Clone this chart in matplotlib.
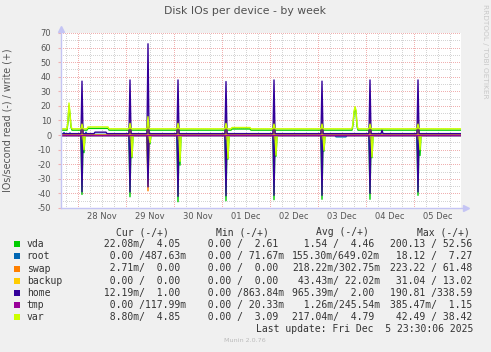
import numpy as np
import pandas as pd
import matplotlib
matplotlib.use("Agg")
import matplotlib.pyplot as plt
from matplotlib.patches import Rectangle

# ---------------- data ----------------
start_time = "2025-11-27 15:30"
n_samples = 401            # 30-minute samples
devices = ["vda", "root", "swap", "backup", "home", "tmp", "var"]
colors = ["#00CC00", "#0066B3", "#FF8000", "#FFCC00", "#330099", "#990099", "#CCFF00"]

# quiet baseline levels (IOs/s)
write_base = [3.4, 0.5, 0.0, 0.0, 1.0, 0.2, 4.3]
read_base = [-0.3, 0.0, 0.0, 0.0, -0.3, 0.0, -0.1]

# nightly bursts
spike_times = ["2025-11-28 02:00", "2025-11-29 02:00", "2025-11-29 11:00",
               "2025-11-30 02:00", "2025-12-01 02:00", "2025-12-02 02:00",
               "2025-12-03 02:00", "2025-12-04 02:00", "2025-12-05 02:00"]
vda_write_spike = [9.5, 9.5, 13.0, 9.5, 9.5, 9.5, 9.5, 9.5, 9.5]
vda_read_spike = [-40.7, -42.3, -30.0, -45.7, -45.0, -44.3, -44.0, -44.0, -41.3]
root_write_spike = [6.0, 6.0, 7.0, 6.0, 6.0, 6.0, 6.0, 6.0, 6.0]
root_read_spike = [-18.0, -18.0, -12.0, -18.0, -18.0, -18.0, -18.0, -18.0, -18.0]
swap_write_spike = [10.5, 10.0, 12.0, 10.0, 10.5, 10.0, 10.0, 10.0, 10.0]
swap_read_spike = [-2.0, -2.0, -38.2, -2.0, -2.0, -2.0, -2.0, -2.0, -2.0]
backup_write_spike = [3.0, 3.0, 3.0, 3.0, 3.0, 3.0, 3.0, 3.0, 3.0]
backup_read_spike = [-3.0, -3.0, -3.0, -3.0, -3.0, -3.0, -3.0, -3.0, -3.0]
home_write_spike = [37.0, 37.8, 62.6, 37.8, 36.7, 37.8, 37.0, 37.8, 37.8]
home_read_spike = [-38.9, -39.0, -35.5, -42.0, -41.6, -41.3, -41.3, -40.0, -39.0]
var_write_spike = [7.5, 8.0, 12.6, 8.0, 8.0, 7.5, 7.5, 7.5, 7.5]

# one sample after each burst
after_times = ["2025-11-28 03:00", "2025-11-29 03:00", "2025-11-29 12:00",
               "2025-11-30 03:00", "2025-12-01 03:00", "2025-12-02 03:00",
               "2025-12-03 03:00", "2025-12-04 03:00", "2025-12-05 03:00"]
var_read_after = [-10.0, -15.0, -5.0, -18.0, -16.0, -13.8, -10.3, -15.0, -10.0]
vda_read_after = [-12.0, -15.5, -6.0, -20.6, -16.5, -14.5, -11.0, -15.5, -14.0]

# var write bumps
var_bump_times = ["2025-11-27 19:00", "2025-11-27 19:30", "2025-11-27 20:00", "2025-11-27 20:30",
                  "2025-12-03 17:30", "2025-12-03 18:00", "2025-12-03 18:30", "2025-12-03 19:00",
                  "2025-12-03 19:30"]
var_bump_values = [10.0, 22.0, 15.0, 6.0, 8.0, 16.0, 19.5, 17.0, 7.0]
vda_bump_values = [9.0, 20.0, 14.0, 5.5, 7.0, 15.0, 18.5, 16.0, 6.0]

# slightly busier periods (start, end, level)
var_write_periods = [("2025-11-28 05:00", "2025-11-28 15:00", 5.6),
                     ("2025-12-01 05:00", "2025-12-01 14:00", 5.2)]
vda_write_periods = [("2025-11-28 05:00", "2025-11-28 15:00", 4.6),
                     ("2025-12-01 05:00", "2025-12-01 14:00", 4.2)]
home_write_periods = [("2025-11-28 08:30", "2025-11-28 14:00", 2.0)]
root_read_periods = [("2025-12-03 09:00", "2025-12-03 14:00", -1.2)]
home_write_blip_times = ["2025-12-04 08:00"]
home_write_blip_values = [3.4]
root_write_blip_times = ["2025-11-27 17:00", "2025-11-27 20:00", "2025-11-28 04:00"]
root_write_blip_values = [1.8, 1.5, 2.0]

y_ticks = [-50, -40, -30, -20, -10, 0, 10, 20, 30, 40, 50, 60, 70]
day_labels = ["28 Nov", "29 Nov", "30 Nov", "01 Dec", "02 Dec", "03 Dec", "04 Dec", "05 Dec"]
day_centers = ["2025-11-28 12:00", "2025-11-29 12:00", "2025-11-30 12:00", "2025-12-01 12:00",
               "2025-12-02 12:00", "2025-12-03 12:00", "2025-12-04 12:00", "2025-12-05 12:00"]

cur_read = ["22.08m", "0.00", "2.71m", "0.00", "12.19m", "0.00", "8.80m"]
cur_write = ["4.05", "487.63m", "0.00", "0.00", "1.00", "117.99m", "4.85"]
min_read = ["0.00", "0.00", "0.00", "0.00", "0.00", "0.00", "0.00"]
min_write = ["2.61", "71.67m", "0.00", "0.00", "863.84m", "20.33m", "3.09"]
avg_read = ["1.54", "155.30m", "218.22m", "43.43m", "965.39m", "1.26m", "217.04m"]
avg_write = ["4.46", "649.02m", "302.75m", "22.02m", "2.00", "245.54m", "4.79"]
max_read = ["200.13", "18.12", "223.22", "31.04", "190.81", "385.47m", "42.49"]
max_write = ["52.56", "7.27", "61.48", "13.02", "338.59", "1.15", "38.42"]

# ---------------- build series ----------------
times = pd.date_range(start_time, periods=n_samples, freq="30min")


def series(base, periods=(), events=()):
    s = pd.Series(base, index=times, dtype=float)
    for a, b, v in periods:
        s.loc[pd.Timestamp(a):pd.Timestamp(b)] = v
    for tlist, vlist in events:
        for t, v in zip(tlist, vlist):
            s.loc[pd.Timestamp(t)] = v
    return s


writes = [
    series(write_base[0], vda_write_periods,
           [(spike_times, vda_write_spike), (var_bump_times, vda_bump_values)]),
    series(write_base[1], (), [(spike_times, root_write_spike),
                               (root_write_blip_times, root_write_blip_values)]),
    series(write_base[2], (), [(spike_times, swap_write_spike)]),
    series(write_base[3], (), [(spike_times, backup_write_spike)]),
    series(write_base[4], home_write_periods,
           [(spike_times, home_write_spike), (home_write_blip_times, home_write_blip_values)]),
    series(write_base[5]),
    series(write_base[6], var_write_periods,
           [(spike_times, var_write_spike), (var_bump_times, var_bump_values)]),
]
reads = [
    series(read_base[0], (), [(spike_times, vda_read_spike), (after_times, vda_read_after)]),
    series(read_base[1], root_read_periods, [(spike_times, root_read_spike)]),
    series(read_base[2], (), [(spike_times, swap_read_spike)]),
    series(read_base[3], (), [(spike_times, backup_read_spike)]),
    series(read_base[4], (), [(spike_times, home_read_spike)]),
    series(read_base[5]),
    series(read_base[6], (), [(after_times, var_read_after)]),
]

# ---------------- figure ----------------
W, H = 491, 352
fig = plt.figure(figsize=(W / 100, H / 100), dpi=100, facecolor="#F0F0F0")


def fx(x):
    return x / W


def fy(y):
    return 1 - y / H


ax = fig.add_axes([fx(61), fy(208), 400 / W, 175 / H])
ax.set_facecolor("white")
t0 = times[0]
t1 = t0 + pd.Timedelta(hours=200)
ax.set_xlim(t0, t1)
ax.set_ylim(-50, 70)

red = "#F0B0B0"
gray = "#D4D4D4"
dot = (0, (1, 2))
# grid
for v in range(-45, 70, 10):
    ax.axhline(v, color=gray, lw=0.72, ls=dot, zorder=0.5, antialiased=False)
for v in range(-40, 71, 10):
    ax.axhline(v, color=red, lw=0.72, ls=dot, zorder=0.6, antialiased=False)
g = pd.date_range("2025-11-27 18:00", t1, freq="6h")
for t in g:
    if t.hour == 0:
        ax.axvline(t, color=red, lw=0.72, ls=dot, zorder=0.6, antialiased=False)
    else:
        ax.axvline(t, color=gray, lw=0.72, ls=dot, zorder=0.5, antialiased=False)

# data: reads then writes in device order
for i, d in enumerate(devices):
    ax.plot(times, reads[i].values, color=colors[i], lw=1.0, zorder=2 + i * 0.1)
for i, d in enumerate(devices):
    ax.plot(times, writes[i].values, color=colors[i], lw=1.0, zorder=3 + i * 0.1)

for sp in ax.spines.values():
    sp.set_visible(False)

axis_c = "#C4C4F4"
ax.plot([0, 0], [0, 1 + 3 / 175], transform=ax.transAxes, color=axis_c, lw=1, clip_on=False, zorder=5)
ax.plot([0, 1 + 4 / 400], [0, 0], transform=ax.transAxes, color=axis_c, lw=1, clip_on=False, zorder=5)
ax.plot([0], [1 + 4 / 175], marker="^", ms=4, color=axis_c, transform=ax.transAxes, clip_on=False, zorder=5)
ax.plot([1 + 5 / 400], [0], marker=">", ms=4, color=axis_c, transform=ax.transAxes, clip_on=False, zorder=5)

ax.set_yticks(y_ticks)
ax.set_yticklabels([str(v) for v in y_ticks])
ax.tick_params(axis="y", length=2, color=red, pad=5, labelsize=6, labelcolor="#555555")
ax.set_xticks([pd.Timestamp(t) for t in day_centers])
ax.set_xticklabels(day_labels)
ax.tick_params(axis="x", length=0, pad=3, labelsize=6, labelcolor="#555555")

fig.text(fx(245.5), fy(11), "Disk IOs per device - by week", ha="center", va="center",
         fontsize=7.8, color="#505050")
fig.text(fx(8), fy(120.5), "IOs/second read (-) / write (+)", rotation=90, ha="center",
         va="center", fontsize=6.9, color="#555555")
fig.text(fx(485), fy(4), "RRDTOOL / TOBI OETIKER", rotation=270, ha="center", va="top",
         fontsize=5.3, color="#C8C8C8")

# legend table
mono = "DejaVu Sans Mono"
tc = "#333333"
fs = 7


def fmt(s):
    if s.endswith("m"):
        return s[:-1].rjust(6) + "m"
    return s.rjust(6) + " "


hy = 232.3
for x, h in zip([115.7, 216.0, 316.0, 416.7], ["Cur (-/+)", "Min (-/+)", "Avg (-/+)", "Max (-/+)"]):
    fig.text(fx(x), fy(hy), h, family=mono, fontsize=fs, color=tc, ha="left", va="center")

col_x = [97.5, 195.6, 292.3, 390.0]
cols = [(cur_read, cur_write), (min_read, min_write), (avg_read, avg_write), (max_read, max_write)]
for i, d in enumerate(devices):
    y = 244.4 + i * 12.05
    fig.add_artist(Rectangle((fx(14), fy(y + 3)), 6 / W, 6 / H, transform=fig.transFigure,
                             facecolor=colors[i], edgecolor="none"))
    fig.text(fx(26.7), fy(y), d, family=mono, fontsize=fs, color=tc, ha="left", va="center")
    for x, (r, w) in zip(col_x, cols):
        fig.text(fx(x), fy(y), fmt(r[i]) + "/" + fmt(w[i]), family=mono, fontsize=fs,
                 color=tc, ha="left", va="center")

fig.text(fx(255.7), fy(328.7), "Last update: Fri Dec  5 23:30:06 2025", family=mono,
         fontsize=fs, color=tc, ha="left", va="center")
fig.text(fx(245), fy(340), "Munin 2.0.76", ha="center", va="center", fontsize=4.6, color="#BBBBBB")

fig.savefig("out.png", dpi=100, facecolor=fig.get_facecolor())
